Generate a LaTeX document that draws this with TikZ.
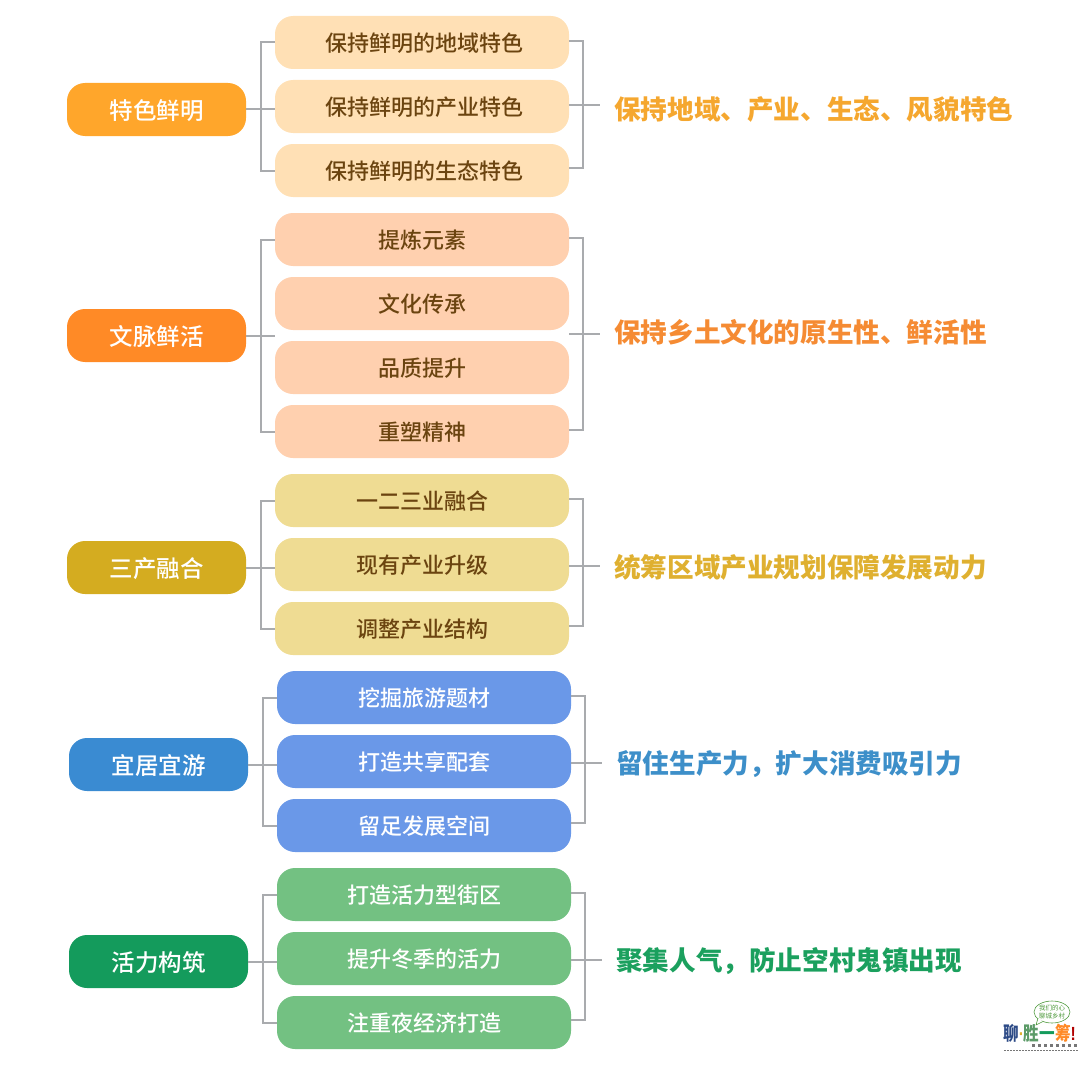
\documentclass[tikz,border=0pt]{standalone}
\usepackage{fontspec}
\setmainfont{Noto Sans CJK SC}
\newfontfamily\medfont{Noto Sans CJK SC Medium}
\newfontfamily\latinfont{Liberation Sans}
\definecolor{mA}{HTML}{FFA62B}\definecolor{iA}{HTML}{FFE0B5}\definecolor{rA}{HTML}{F5A72F}
\definecolor{mB}{HTML}{FF8A26}\definecolor{iB}{HTML}{FFD0AF}\definecolor{rB}{HTML}{F58B33}
\definecolor{mC}{HTML}{D4AC20}\definecolor{iC}{HTML}{EFDC93}\definecolor{rC}{HTML}{DFB030}
\definecolor{mD}{HTML}{3A8BD2}\definecolor{iD}{HTML}{6A98E8}\definecolor{rD}{HTML}{3D8FC9}
\definecolor{mE}{HTML}{149B5C}\definecolor{iE}{HTML}{73C182}\definecolor{rE}{HTML}{1BA05E}
\definecolor{itemtext}{HTML}{6B4410}
\definecolor{linegray}{HTML}{A9ABAE}
\definecolor{logogreen}{HTML}{4E9A3C}
\definecolor{logoblue}{HTML}{2C4A86}
\definecolor{logodark}{HTML}{777777}
\tikzset{
  mainbox/.style={rounded corners=18pt,minimum width=179pt,minimum height=53pt,inner sep=0pt,text=white,text height=21pt,text depth=1.2pt,font=\medfont\fontsize{23.5}{24}\selectfont},
  itembox/.style={rounded corners=18pt,minimum width=294pt,minimum height=53pt,inner sep=0pt,text height=20pt,text depth=1.2pt,font=\medfont\fontsize{22}{22}\selectfont},
  sumtext/.style={anchor=west,inner sep=0pt,font=\fontsize{26.6}{27}\selectfont\bfseries},
  link/.style={draw=linegray,line width=2pt},
}
\begin{document}
\begin{tikzpicture}[x=1pt,y=-1pt]
\useasboundingbox (0,0) rectangle (1080,1065);
% group 1
\node[mainbox,fill=mA] (m1) at (156.5,109.5) {特色鲜明};
\node[itembox,fill=iA,text=itemtext] (a1) at (422,42.5) {\hspace*{5pt}保持鲜明的地域特色};
\node[itembox,fill=iA,text=itemtext] (a2) at (422,106.5) {\hspace*{5pt}保持鲜明的产业特色};
\node[itembox,fill=iA,text=itemtext] (a3) at (422,170.5) {\hspace*{5pt}保持鲜明的生态特色};
\node[sumtext,text=rA] (s1) at (614,109) {保持地域、产业、生态、风貌特色};
\coordinate (e1) at (600,105);
\draw[link] (m1.east) -- (m1.east -| a1.west);
\draw[link] (a1.west) -- ++(-14,0) |- (a3.west);
\draw[link] ([yshift=1.5pt]a1.east) -- ++(14,0) |- ([yshift=2.5pt]a3.east);
\draw[link] (a2.east |- e1) -- (e1);
% group 2
\node[mainbox,fill=mB] (m2) at (156.5,335.5) {文脉鲜活};
\node[itembox,fill=iB,text=itemtext] (b1) at (422,239.5) {提炼元素};
\node[itembox,fill=iB,text=itemtext] (b2) at (422,303.5) {文化传承};
\node[itembox,fill=iB,text=itemtext] (b3) at (422,367.5) {品质提升};
\node[itembox,fill=iB,text=itemtext] (b4) at (422,431.5) {重塑精神};
\node[sumtext,text=rB] (s2) at (614,332) {保持乡土文化的原生性、鲜活性};
\coordinate (e2) at (600,334);
\draw[link] (m2.east) -- (m2.east -| b1.west);
\draw[link] (b1.west) -- ++(-14,0) |- (b4.west);
\draw[link] ([yshift=1.5pt]b1.east) -- ++(14,0) |- ([yshift=2pt]b4.east);
\draw[link] (b2.east |- e2) -- (e2);
% group 3
\node[mainbox,fill=mC] (m3) at (156.5,567.5) {三产融合};
\node[itembox,fill=iC,text=itemtext] (c1) at (422,500.5) {一二三业融合};
\node[itembox,fill=iC,text=itemtext] (c2) at (422,564.5) {现有产业升级};
\node[itembox,fill=iC,text=itemtext] (c3) at (422,628.5) {调整产业结构};
\node[sumtext,text=rC] (s3) at (614,567) {统筹区域产业规划保障发展动力};
\coordinate (e3) at (600,566);
\draw[link] (m3.east) -- (m3.east -| c1.west);
\draw[link] (c1.west) -- ++(-14,0) |- (c3.west);
\draw[link] ([yshift=1.5pt]c1.east) -- ++(14,0) |- ([yshift=2.5pt]c3.east);
\draw[link] (c2.east |- e3) -- (e3);
% group 4
\node[mainbox,fill=mD] (m4) at (158.5,764.5) {宜居宜游};
\node[itembox,fill=iD,text=white] (d1) at (424,697.5) {挖掘旅游题材};
\node[itembox,fill=iD,text=white] (d2) at (424,761.5) {打造共享配套};
\node[itembox,fill=iD,text=white] (d3) at (424,825.5) {留足发展空间};
\node[sumtext,text=rD] (s4) at (616,764) {留住生产力，扩大消费吸引力};
\coordinate (e4) at (602,763);
\draw[link] (m4.east) -- (m4.east -| d1.west);
\draw[link] (d1.west) -- ++(-14,0) |- (d3.west);
\draw[link] ([yshift=1.5pt]d1.east) -- ++(14,0) |- ([yshift=2.5pt]d3.east);
\draw[link] (d2.east |- e4) -- (e4);
% group 5
\node[mainbox,fill=mE] (m5) at (158.5,961.5) {活力构筑};
\node[itembox,fill=iE,text=white] (f1) at (424,894.5) {打造活力型街区};
\node[itembox,fill=iE,text=white] (f2) at (424,958.5) {提升冬季的活力};
\node[itembox,fill=iE,text=white] (f3) at (424,1022.5) {注重夜经济打造};
\node[sumtext,text=rE] (s5) at (616,961) {聚集人气，防止空村鬼镇出现};
\coordinate (e5) at (602,960);
\draw[link] (m5.east) -- (m5.east -| f1.west);
\draw[link] (f1.west) -- ++(-14,0) |- (f3.west);
\draw[link] ([yshift=1.5pt]f1.east) -- ++(14,0) |- ([yshift=2.5pt]f3.east);
\draw[link] (f2.east |- e5) -- (e5);
% logo
\draw[draw=logogreen,line width=0.6pt,fill=white] (1052,1012) ellipse [x radius=18,y radius=11];
\fill[white,draw=logogreen,line width=0.6pt] (1038,1018) -- (1036,1025) -- (1043,1021.5);
\node[inner sep=0pt,text=logogreen,font=\fontsize{6.5}{7.5}\selectfont,align=center] (lb) at (1052,1012) {我们的心\\聊城乡村};
\node[inner sep=0pt,anchor=west,xscale=.82,transform shape,font=\fontsize{19}{19}\selectfont\bfseries] (lg) at (1003,1033) {\textcolor{logoblue}{聊}\textcolor{rC}{\latinfont·}\textcolor{iE!80!black}{胜}\textcolor{mE}{一}\textcolor{mB}{筹}\textcolor{red!70!black}{\latinfont!}};
\draw[logodark,line width=3pt,dash pattern=on 3pt off 3pt] (1032,1045.5) -- (1078,1045.5);
\draw[logodark,line width=1pt,dash pattern=on 2pt off 1pt] (1004,1050) -- (1078,1050);
\end{tikzpicture}
\end{document}
